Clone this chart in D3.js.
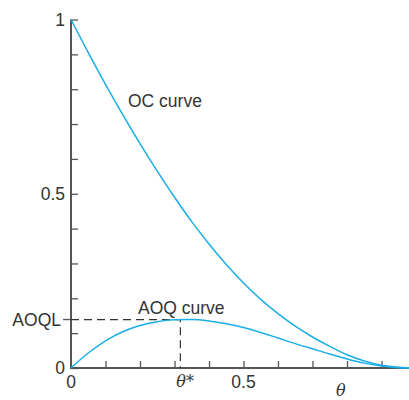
<!DOCTYPE html>
<html><head><meta charset="utf-8">
<script src="https://cdn.jsdelivr.net/npm/d3@7"></script>
<style>body{margin:0;background:#fff}svg{display:block}</style>
</head><body>
<svg id="c" width="409" height="400"></svg>
<script>
const thetaValues = [0,0.05,0.1,0.15,0.2,0.25,0.3,0.35,0.4,0.45,0.5,0.55,0.6,0.65,0.7,0.75,0.8,0.85,0.9,0.95,0.98];
const ocValues    = [1,0.905,0.814,0.727,0.644,0.565,0.49,0.42,0.356,0.297,0.244,0.197,0.156,0.12,0.089,0.062,0.038,0.02,0.008,0.002,0];
const aoqValues   = [0,0.043,0.078,0.104,0.122,0.133,0.1385,0.139,0.135,0.127,0.116,0.102,0.086,0.07,0.055,0.04,0.026,0.014,0.006,0.001,0];
const thetaStar = 0.317;
const aoql = 0.139;
const yTicks = [0,0.1,0.2,0.3,0.4,0.5,0.6,0.7,0.8,0.9,1];
const xTicks = [0.1,0.2,0.3,0.4,0.5,0.6,0.7,0.8,0.9];
const yLabels = [{v:1,t:"1"},{v:0.5,t:"0.5"},{v:0,t:"0"}];
const xLabels = [{v:0,t:"0"},{v:0.5,t:"0.5"}];

const svg = d3.select("#c");
const x = d3.scaleLinear().domain([0,1]).range([71,416]);
const y = d3.scaleLinear().domain([0,1]).range([368,19.5]);
const font = "'Liberation Sans', Arial, sans-serif";
const blue = "#1aaee8";
const axisCol = "#555";

// y axis ticks inward (right)
const ya = svg.append("g").attr("transform",`translate(${x(0)},0)`)
  .call(d3.axisRight(y).tickValues(yTicks).tickSize(7).tickFormat(""));
ya.select(".domain").remove();
ya.selectAll(".tick line").attr("stroke",axisCol).attr("stroke-width",1.3);
// x axis ticks inward (up)
const xa = svg.append("g").attr("transform",`translate(0,${y(0)})`)
  .call(d3.axisTop(x).tickValues(xTicks).tickSize(7).tickFormat(""));
xa.select(".domain").remove();
xa.selectAll(".tick line").attr("stroke",axisCol).attr("stroke-width",1.3);

// axis lines
svg.append("line").attr("x1",x(0)).attr("x2",x(0)).attr("y1",y(1)).attr("y2",y(0)+1)
  .attr("stroke",axisCol).attr("stroke-width",2);
svg.append("line").attr("x1",x(0)).attr("x2",409).attr("y1",y(0)).attr("y2",y(0))
  .attr("stroke",axisCol).attr("stroke-width",2);
// AOQL tick (left)
svg.append("line").attr("x1",x(0)-8).attr("x2",x(0)).attr("y1",y(aoql)).attr("y2",y(aoql))
  .attr("stroke",axisCol).attr("stroke-width",1.3);

// dashed guides
svg.append("path")
  .attr("d",`M${x(0)},${y(aoql)}H${x(thetaStar)}V${y(0)}`)
  .attr("fill","none").attr("stroke","#333").attr("stroke-width",1.2).attr("stroke-dasharray","8,5");

const line = (vals)=> d3.line().x((d,i)=>x(thetaValues[i])).y(d=>y(d)).curve(d3.curveMonotoneX)(vals);
svg.append("path").attr("d",line(ocValues)).attr("fill","none").attr("stroke",blue).attr("stroke-width",1.5);
svg.append("path").attr("d",line(aoqValues)).attr("fill","none").attr("stroke",blue).attr("stroke-width",1.5);

const txt = (xx,yy,t,anchor)=> svg.append("text").attr("x",xx).attr("y",yy).attr("text-anchor",anchor||"start")
  .attr("font-family",font).attr("font-size",17.5).attr("fill","#333").text(t);

yLabels.forEach(d=>txt(x(0)-6,y(d.v)+6,d.t,"end"));
txt(x(0)-10,y(aoql)+6.5,"AOQL","end");
xLabels.forEach(d=>txt(x(d.v),y(0)+20,d.t,"middle"));
svg.append("text").attr("x",x(thetaStar)-4).attr("y",y(0)+19).attr("font-family","'DejaVu Serif', serif")
  .attr("font-style","italic").attr("font-size",16).attr("fill","#333").text("θ*");
svg.append("text").attr("x",336).attr("y",396).attr("font-family","'DejaVu Serif', serif")
  .attr("font-style","italic").attr("font-size",16).attr("fill","#333").text("θ");
txt(128,107,"OC curve");
txt(138,314,"AOQ curve");
</script>
</body></html>
